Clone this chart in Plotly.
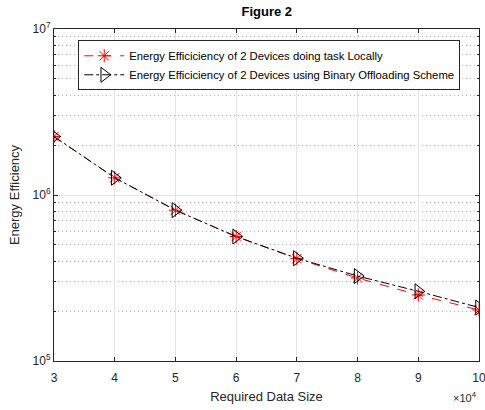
import plotly.graph_objects as go

data_size = [30000, 40000, 50000, 60000, 70000, 80000, 90000, 100000]
local_ee = [2.25e6, 1.27e6, 8.1e5, 5.62e5, 4.14e5, 3.16e5, 2.5e5, 2.03e5]
offload_ee = [2.25e6, 1.27e6, 8.1e5, 5.62e5, 4.16e5, 3.25e5, 2.63e5, 2.1e5]

x_tickvals = [30000, 40000, 50000, 60000, 70000, 80000, 90000, 100000]
x_ticktext = ["3", "4", "5", "6", "7", "8", "9", "10"]
y_tickvals = [1e5, 1e6, 1e7]
y_ticktext = ["10<sup>5</sup>", "10<sup>6</sup>", "10<sup>7</sup>"]
y_minor = [m * 10 ** e for e in (5, 6) for m in range(2, 10)]

name_local = "Energy Efficiciency of 2 Devices doing task Locally"
name_off = "Energy Efficiciency of 2 Devices using Binary Offloading Scheme"

font = "Liberation Sans, Arial, sans-serif"
axcol = "#262626"

fig = go.Figure()
fig.add_trace(go.Scatter(
    x=data_size, y=local_ee, name=name_local, mode="lines+markers",
    line=dict(color="#ff0000", width=1, dash="dash"),
    marker=dict(symbol="asterisk-open", size=11, color="#ff0000",
                line=dict(color="#ff0000", width=1)),
))
fig.add_trace(go.Scatter(
    x=data_size, y=offload_ee, name=name_off, mode="lines+markers",
    line=dict(color="#000000", width=1, dash="dashdot"),
    marker=dict(symbol="triangle-right-open", size=13, color="#000000",
                line=dict(color="#000000", width=1)),
))

fig.update_layout(
    width=485, height=410,
    margin=dict(l=54, r=6, t=29, b=49),
    paper_bgcolor="white", plot_bgcolor="white",
    font=dict(family=font, size=12, color=axcol),
    title=dict(text="<b>Figure 2</b>", x=0.55, xanchor="center",
               y=0.972, yanchor="middle", font=dict(size=13, color="#000000")),
    showlegend=True,
    legend=dict(x=0.057, y=0.966, xanchor="left", yanchor="top",
                bgcolor="white", bordercolor=axcol, borderwidth=1,
                font=dict(size=11.3, color="#000000"), itemwidth=40,
                tracegroupgap=0),
)
fig.update_xaxes(
    range=[30000, 100000], tickvals=x_tickvals, ticktext=x_ticktext,
    showgrid=True, gridcolor="#e3e3e3", gridwidth=1,
    showline=True, linecolor=axcol, linewidth=1, mirror="ticks",
    ticks="inside", ticklen=4, tickcolor=axcol, zeroline=False,
    ticklabelstandoff=6, ticklabeloverflow="allow", automargin=False,
    title=dict(text="Required Data Size", font=dict(size=13), standoff=7),
)
fig.update_yaxes(
    type="log", range=[5, 7], tickvals=y_tickvals, ticktext=y_ticktext,
    showgrid=True, gridcolor="#e3e3e3", gridwidth=1,
    showline=True, linecolor=axcol, linewidth=1, mirror="ticks",
    ticks="inside", ticklen=4, tickcolor=axcol, zeroline=False, automargin=False,
    minor=dict(tickvals=y_minor, showgrid=True, griddash="1px,3px",
               gridcolor="#b0b0b0", ticks="inside", ticklen=2, tickcolor=axcol),
    title=dict(text="Energy Efficiency", font=dict(size=13), standoff=10),
)
fig.add_annotation(
    text="×10<sup>4</sup>", xref="paper", yref="paper", x=1.0, y=-0.08,
    xanchor="right", yanchor="top", showarrow=False,
    font=dict(size=11, color=axcol),
)
fig.write_html("out.html", config={"displayModeBar": False},
               post_script="document.body.style.margin='0';")
